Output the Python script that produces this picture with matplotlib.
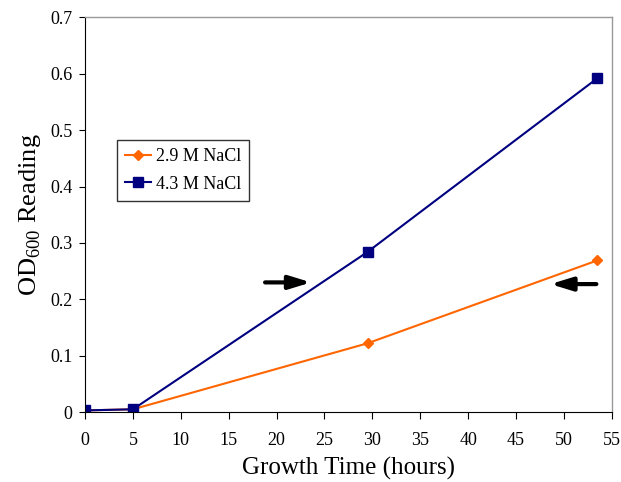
import matplotlib
matplotlib.use("Agg")
import matplotlib.pyplot as plt

plt.rcParams["font.family"] = ["Liberation Serif", "DejaVu Serif"]
plt.rcParams["mathtext.fontset"] = "custom"
plt.rcParams["mathtext.rm"] = "Liberation Serif"

# growth data
hours = [0, 5, 29.5, 53.5]
od_29 = [0.003, 0.005, 0.122, 0.269]
od_43 = [0.003, 0.005, 0.284, 0.592]
labels = ["2.9 M NaCl", "4.3 M NaCl"]

fig = plt.figure(figsize=(6.21, 4.82), dpi=100)
ax = fig.add_axes([0.137, 0.145, 0.848, 0.819])

ax.plot(hours, od_29, color="#FF6600", marker="D", markersize=5, linewidth=1.5, label=labels[0])
ax.plot(hours, od_43, color="#000080", marker="s", markersize=7, linewidth=1.5, label=labels[1])

# arrows pointing at the two lines
arrow = dict(arrowstyle="-|>,head_length=1.3,head_width=0.4", color="black",
             lw=3, mutation_scale=10, shrinkA=0, shrinkB=0)
ax.annotate("", xy=(23.6, 0.23), xytext=(18.8, 0.23), arrowprops=arrow)
ax.annotate("", xy=(48.6, 0.227), xytext=(53.4, 0.227), arrowprops=arrow)

ax.set_xlim(0, 55)
ax.set_ylim(0, 0.7)
ax.set_xticks(range(0, 56, 5))
ax.set_yticks([0, 0.1, 0.2, 0.3, 0.4, 0.5, 0.6, 0.7])
ax.set_yticklabels(["0", "0.1", "0.2", "0.3", "0.4", "0.5", "0.6", "0.7"])
ax.tick_params(axis="x", direction="out", length=5, pad=9, labelsize=13)
ax.tick_params(axis="y", direction="out", length=4, pad=5, labelsize=13)

for side in ["top", "right"]:
    ax.spines[side].set_color("#999999")
    ax.spines[side].set_linewidth(1)

ax.set_xlabel("Growth Time (hours)", fontsize=18, labelpad=6)
ax.set_ylabel("OD$_{\\mathregular{600}}$ Reading", fontsize=19, labelpad=5)

leg = ax.legend(loc="upper left", bbox_to_anchor=(0.061, 0.69), fontsize=13,
                frameon=True, fancybox=False, edgecolor="black",
                handlelength=1.4, borderpad=0.45, labelspacing=0.6,
                handletextpad=0.3, borderaxespad=0)
leg.get_frame().set_linewidth(1)

fig.savefig("out.png", dpi=100)
